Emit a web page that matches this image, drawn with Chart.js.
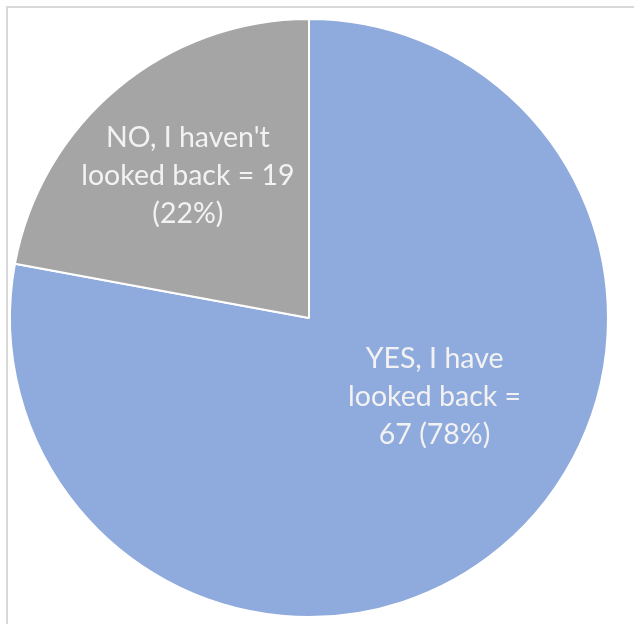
<!DOCTYPE html>
<html>
<head>
<meta charset="utf-8">
<script src="https://cdn.jsdelivr.net/npm/chart.js@4/dist/chart.umd.min.js"></script>
<style>
    html, body { margin: 0; padding: 0; background: #fff; overflow: hidden; }
    #frame {
        position: absolute; left: 6px; top: 6px;
        width: 700px; height: 700px;
        border: 2px solid #d9d9d9;
    }
    #wrap { position: absolute; left: 0; top: 0; width: 634px; height: 624px; }
</style>
</head>
<body>
<div id="frame"></div>
<div id="wrap"><canvas id="lookedBackChart"></canvas></div>
<script>
// Survey answers
const answers = ['YES, I have looked back', "NO, I haven't looked back"];
const counts = [67, 19];
const percents = [78, 22];
const sliceColors = ['#8faadc', '#a5a5a5'];

// Label lines inside each slice
const labelLines = [
    ['YES, I have', 'looked back =', counts[0] + ' (' + percents[0] + '%)'],
    ["NO, I haven't", 'looked back = ' + counts[1], '(' + percents[1] + '%)']
];

// Writes the label text inside each slice
const sliceLabels = {
    id: 'sliceLabels',
    afterDatasetsDraw(chart, args, opts) {
        const ctx = chart.ctx;
        const arcs = chart.getDatasetMeta(0).data;
        ctx.save();
        ctx.font = opts.font;
        ctx.fillStyle = opts.color;
        ctx.textAlign = 'center';
        ctx.textBaseline = 'middle';
        arcs.forEach((arc, i) => {
            const r = arc.outerRadius;
            const cx = arc.x + opts.offsets[i][0] * r;
            const cy = arc.y + opts.offsets[i][1] * r;
            const lines = labelLines[i];
            const top = cy - (lines.length - 1) * opts.lineHeight / 2;
            lines.forEach((line, j) => ctx.fillText(line, cx, top + j * opts.lineHeight));
        });
        ctx.restore();
    }
};

const ctx = document.getElementById('lookedBackChart').getContext('2d');

new Chart(ctx, {
    type: 'pie',
    data: {
        labels: answers,
        datasets: [{
            data: counts,
            backgroundColor: sliceColors,
            borderColor: '#ffffff',
            borderWidth: 2
        }]
    },
    options: {
        responsive: true,
        maintainAspectRatio: false,
        animation: false,
        layout: {
            padding: { left: 9, right: 25, top: 18, bottom: 6 }
        },
        plugins: {
            legend: { display: false },
            tooltip: { enabled: false },
            sliceLabels: {
                font: '28.5px Lato',
                color: '#f2f2f2',
                lineHeight: 38,
                offsets: [[0.42, 0.265], [-0.405, -0.475]]
            }
        }
    },
    plugins: [sliceLabels]
});
</script>
</body>
</html>
